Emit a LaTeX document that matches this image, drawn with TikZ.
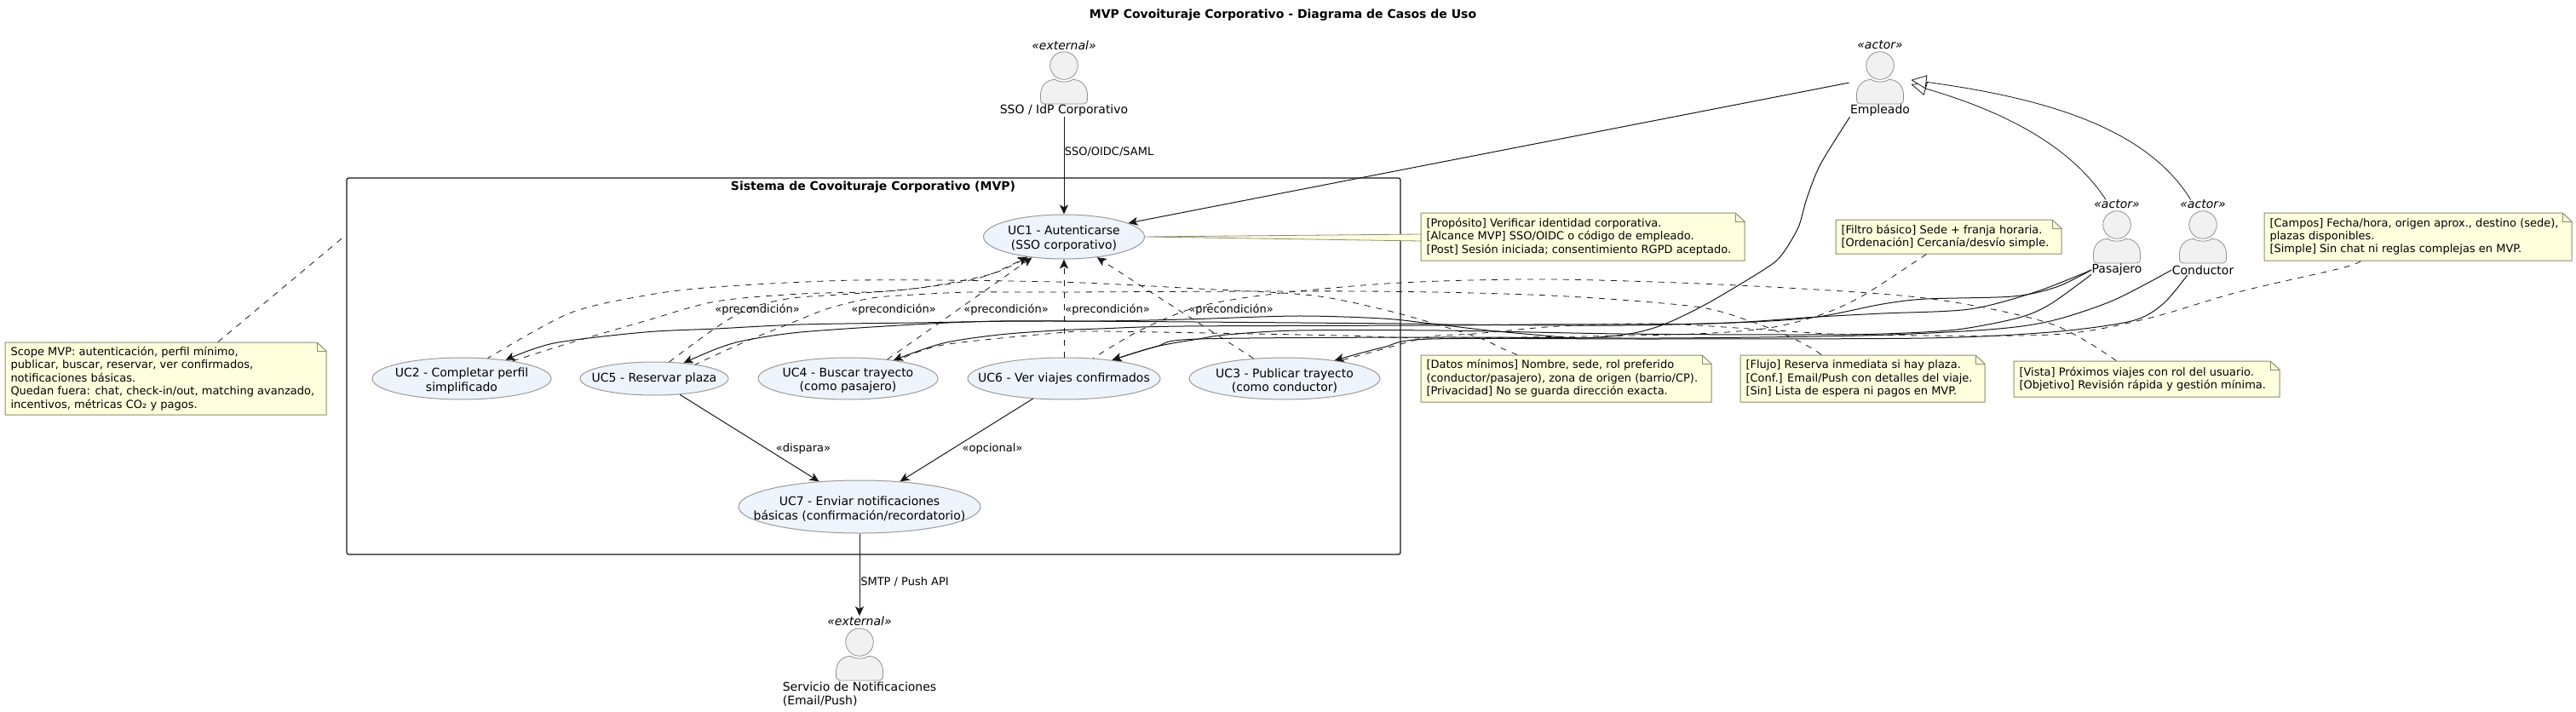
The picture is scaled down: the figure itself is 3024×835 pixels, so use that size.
\documentclass[tikz,border=0pt]{standalone}
\usepackage{fontspec}
\setmainfont{DejaVu Sans}
\usetikzlibrary{arrows.meta,shapes.geometric}
\definecolor{edgec}{HTML}{181818}
\definecolor{ucfill}{HTML}{EEF4FC}
\definecolor{ucline}{HTML}{9A9A9A}
\definecolor{notefill}{HTML}{FEFFDD}
\definecolor{noteline}{HTML}{8C8C70}
\definecolor{actfill}{HTML}{F1F1F1}
\definecolor{actline}{HTML}{909090}
\tikzset{
  base/.style={x=.5pt,y=-.5pt,line width=.5pt},
  tx/.style={inner sep=0pt,font=\fontsize{7}{8.3}\selectfont,text=black},
  txs/.style={inner sep=0pt,font=\fontsize{6.5}{7.7}\selectfont,text=black},
  uctext/.style={inner sep=0pt,font=\fontsize{7}{8.3}\selectfont,align=center,yshift=-1.2pt},
  ucase/.style={ellipse,draw=ucline,fill=ucfill,inner sep=0pt,line width=.5pt},
  flow/.style={draw=edgec,line width=.5pt,-{Stealth[length=5.5pt,width=5pt,inset=1.4pt]}},
  dep/.style={flow,line width=.4pt,dash pattern=on 3.5pt off 3.5pt},
  notelink/.style={draw=edgec,line width=.4pt,dash pattern=on 3.5pt off 3.5pt},
  gen/.style={draw=edgec,line width=.4pt,-{Triangle[open,length=9pt,width=8pt,fill=white]}},
  notebody/.style={draw=noteline,fill=notefill,line width=.5pt},
  empty/.style={inner sep=0pt,draw=none,fill=none},
}
\newcommand{\actorfig}[3]{% name, x, head top y
  \begin{scope}[shift={(#2,#3)}]
    \draw[draw=actline,fill=actfill,line width=.4pt] (0,16) circle[radius=16.25];
    \draw[draw=actline,fill=actfill,line width=.4pt] (-22,61) .. controls (-25.5,61) and (-27.5,59) .. (-27.5,55.5) -- (-27.5,50) .. controls (-27.5,40) and (-20,32) .. (-10,32.5) .. controls (-6,36) and (6,36) .. (10,32.5) .. controls (20,32) and (27.5,40) .. (27.5,50) -- (27.5,55.5) .. controls (27.5,59) and (25.5,61) .. (22,61) -- cycle;
    \node[empty,minimum width=36pt,minimum height=32pt] (#1) at (0,31) {};
  \end{scope}
}
\newcommand{\notebox}[6]{% name,x1,y1,x2,y2,text
  \path[notebody] (#2,#3) -- ({#4-11},#3) -- (#4,{#3+10}) -- (#4,#5) -- (#2,#5) -- cycle;
  \draw[draw=noteline,line width=.5pt] ({#4-11},#3) -- ({#4-11},{#3+10}) -- (#4,{#3+10});
  \pgfmathsetlengthmacro{\nw}{(#4-#2)*.5pt}
  \pgfmathsetlengthmacro{\nh}{(#5-#3)*.5pt}
  \node[empty,minimum width=\nw,minimum height=\nh] (#1) at ({(#2+#4)/2},{(#3+#5)/2}) {};
  \node[txs,align=left,anchor=west] (#1T) at ({#2+6},{(#3+#5)/2}) {#6};
}
\begin{document}
\begin{tikzpicture}[base]
\useasboundingbox (0,0) rectangle (3024,835);
\fill[white] (0,0) rectangle (3024,835);

\node[inner sep=0pt,font=\fontsize{7}{8.3}\selectfont\bfseries] (title) at (1506,18) {MVP Covoituraje Corporativo - Diagrama de Casos de Uso};

% system
\node[draw=edgec,rounded corners=1.2pt,line width=.6pt,minimum width=618.5pt,minimum height=221pt,inner sep=0pt] (sys) at (1025.5,430) {};
\node[inner sep=0pt,font=\fontsize{7}{8.3}\selectfont\bfseries] (systitle) at (1025,220) {Sistema de Covoituraje Corporativo (MVP)};

% actors
\actorfig{ssoA}{1249}{61}
\node[tx,font=\fontsize{7}{8.3}\selectfont\itshape] (ssoS) at (1249,53) {«external»};
\node[tx] (ssoL) at (1249,130) {SSO / IdP Corporativo};
\actorfig{empA}{2207}{61}
\node[tx,font=\fontsize{7}{8.3}\selectfont\itshape] (empS) at (2207,53) {«actor»};
\node[tx] (empL) at (2207,130) {Empleado};
\actorfig{pasA}{2485}{248}
\node[tx,font=\fontsize{7}{8.3}\selectfont\itshape] (pasS) at (2485,240) {«actor»};
\node[tx] (pasL) at (2485,317) {Pasajero};
\actorfig{conA}{2586}{248}
\node[tx,font=\fontsize{7}{8.3}\selectfont\itshape] (conS) at (2586,240) {«actor»};
\node[tx] (conL) at (2586,317) {Conductor};
\actorfig{notA}{1009}{738}
\node[tx,font=\fontsize{7}{8.3}\selectfont\itshape] (notS) at (1009,729) {«external»};
\node[tx,align=left] (notL) at (1009,815) {Servicio de Notificaciones\\(Email/Push)};

% use cases
\node[ucase,minimum width=94.5pt,minimum height=26pt] (uc1) at (1249,278) {};
\node[uctext] (uc1T) at (uc1.center) {UC1 - Autenticarse\\(SSO corporativo)};
\node[ucase,minimum width=105pt,minimum height=24.5pt] (uc2) at (542,444.5) {};
\node[uctext] (uc2T) at (uc2.center) {UC2 - Completar perfil\\simplificado};
\node[ucase,minimum width=87pt,minimum height=19.5pt] (uc5) at (768,444.5) {};
\node[uctext,yshift=1.2pt] (uc5T) at (uc5.center) {UC5 - Reservar plaza};
\node[ucase,minimum width=105.5pt,minimum height=24.5pt] (uc4) at (995.5,444.5) {};
\node[uctext] (uc4T) at (uc4.center) {UC4 - Buscar trayecto\\(como pasajero)};
\node[ucase,minimum width=113pt,minimum height=24.5pt] (uc6) at (1249,444.5) {};
\node[uctext,yshift=1.2pt] (uc6T) at (uc6.center) {UC6 - Ver viajes confirmados};
\node[ucase,minimum width=112pt,minimum height=24.5pt] (uc3) at (1508,444.5) {};
\node[uctext] (uc3T) at (uc3.center) {UC3 - Publicar trayecto\\(como conductor)};
\node[ucase,minimum width=142pt,minimum height=31pt] (uc7) at (1009,595) {};
\node[uctext] (uc7T) at (uc7.center) {UC7 - Enviar notificaciones\\básicas (confirmación/recordatorio)};

% notes
\notebox{nScope}{6}{402}{383}{487}{Scope MVP: autenticación, perfil mínimo,\\publicar, buscar, reservar, ver confirmados,\\notificaciones básicas.\\Quedan fuera: chat, check-in/out, matching avanzado,\\incentivos, métricas CO₂ y pagos.}
\notebox{nUCa}{1668}{250}{2048}{306}{[Propósito] Verificar identidad corporativa.\\{}[Alcance MVP] SSO/OIDC o código de empleado.\\{}[Post] Sesión iniciada; consentimiento RGPD aceptado.}
\notebox{nFiltro}{2155}{258}{2420}{298}{[Filtro básico] Sede + franja horaria.\\{}[Ordenación] Cercanía/desvío simple.}
\notebox{nCampos}{2658}{250}{3019}{306}{[Campos] Fecha/hora, origen aprox., destino (sede),\\plazas disponibles.\\{}[Simple] Sin chat ni reglas complejas en MVP.}
\notebox{nDatos}{1668}{417}{2009}{472}{[Datos mínimos] Nombre, sede, rol preferido\\(conductor/pasajero), zona de origen (barrio/CP).\\{}[Privacidad] No se guarda dirección exacta.}
\notebox{nFlujo}{2043}{417}{2330}{472}{[Flujo] Reserva inmediata si hay plaza.\\{}[Conf.] Email/Push con detalles del viaje.\\{}[Sin] Lista de espera ni pagos en MVP.}
\notebox{nVista}{2364}{424}{2676}{466}{[Vista] Próximos viajes con rol del usuario.\\{}[Objetivo] Revisión rápida y gestión mínima.}

% note wedge
\filldraw[draw=noteline,fill=notefill,line width=.4pt] (uc1.east) -- (1668,275) -- (1668,283) -- cycle;
\draw[notelink] (nScope.35) -- (sys.166.8);

% straight flows
\draw[flow] (ssoL.south) -- (uc1.north);
\draw[flow] (empA.188) -- (uc1.12);
\draw[flow] (uc5.-32) -- (uc7.148);
\draw[flow] (uc6.-147) -- (uc7.32);
\draw[flow] (uc7.south) -- (notS.north);

% generalisations
\draw[gen] (pasS.157) .. controls (2430,170) and (2350,130) .. (empA.-11);
\draw[gen] (conS.159) .. controls (2520,150) and (2400,115) .. (empA.-3);

% preconditions
\draw[dep] plot[smooth,tension=.5] coordinates {(uc2.19) (668,403) (757,377) (840,354) (940,345) (1040,342) (1123,332) (1163,322) (uc1.-151)};
\draw[dep] plot[smooth,tension=.5] coordinates {(uc5.48) (840,385) (880,362) (930,350) (1000,345) (1080,338) (1163,322) (uc1.-151)};
\draw[dep] (uc4.26) -- (uc1.-147);
\draw[dep] (uc6.north) -- (uc1.south);
\draw[dep] (uc3.147) -- (uc1.-32);

% actor to use case
\draw[flow] plot[smooth,tension=.5] coordinates {(empL.south west) (2137,193) (2121,233) (2111,267) (2091,300) (2070,317) (2003,357) (1953,381) (1913,392) (1857,397) (1813,394) (1747,388) (1680,380) (1623,374) (1523,371) (1390,375) (1290,377) (1173,377) (1073,381) (940,390) (873,400) (840,410) (uc5.28)};
\draw[flow] plot[smooth,tension=.5] coordinates {(pasL.west) (2414,337) (2363,348) (2261,351) (2210,357) (2134,372) (2057,378) (1904,382) (1700,381) (1643,380) (1240,377) (1073,379) (940,381) (840,386) (757,390) (650,403) (uc2.23)};
\draw[flow] plot[smooth,tension=.5] coordinates {(pasL.west) (2389,343) (2312,363) (2210,368) (2134,372) (2006,380) (1800,381) (1690,382) (1390,383) (1290,386) (1240,388) (1173,393) (1107,403) (uc4.22)};
\draw[flow] plot[smooth,tension=.5] coordinates {(pasL.-170) (2407,357) (2370,373) (2297,387) (2210,392) (2108,393) (1903,392) (1690,388) (1523,388) (1440,393) (1407,398) (1357,407) (uc6.21)};
\draw[flow] plot[smooth,tension=.5] coordinates {(conL.west) (2480,353) (2407,377) (2334,387) (2187,394) (1947,397) (1690,396) (1407,398) (1357,407) (uc6.21)};
\draw[flow] plot[smooth,tension=.5] coordinates {(conL.-162) (2539,357) (2502,377) (2407,390) (2260,397) (1947,398) (1680,398) (1623,408) (uc3.20)};

% note links
\draw[notelink] plot[smooth,tension=.5] coordinates {(nDatos.154.8) (1763,409) (1740,398) (1697,384) (1630,365) (1541,347) (1407,339) (1240,331) (1007,329) (840,337) (757,347) (668,368) (uc2.38)};
\draw[notelink] plot[smooth,tension=.5] coordinates {(nFlujo.150) (2127,409) (2100,395) (2057,378) (1990,360) (1820,347) (1600,342) (1240,343) (1140,343) (1073,346) (1023,350) (973,362) (927,380) (873,402) (uc5.19)};
\draw[notelink] plot[smooth,tension=.5] coordinates {(nVista.149.7) (2407,380) (2260,350) (2040,335) (1820,328) (1644,332) (1496,345) (1407,360) (1340,387) (uc6.35)};
\draw[notelink] plot[smooth,tension=.5] coordinates {(nFiltro.-142) (2187,347) (2136,370) (2070,386) (1960,393) (1690,397) (1577,394) (1473,392) (1290,389) (1240,391) (1107,405) (uc4.20)};
\draw[notelink] plot[smooth,tension=.5] coordinates {(nCampos.-157.2) (2748,315) (2627,343) (2517,375) (2407,393) (2180,393) (2070,387) (1947,380) (1830,383) (1730,392) (1680,395) (1623,410) (uc3.18)};

% edge labels
\node[txs] (lpre1) at (889,364) {«precondición»};
\node[txs] (lpre2) at (1049,364) {«precondición»};
\node[txs] (lpre3) at (1181,364) {«precondición»};
\node[txs] (lpre4) at (1300,364) {«precondición»};
\node[txs] (lpre5) at (1445,364) {«precondición»};
\node[txs] (ldisp) at (943,527) {«dispara»};
\node[txs] (lopc) at (1165,527) {«opcional»};
\node[txs] (lsso) at (1302,178) {SSO/OIDC/SAML};
\node[txs] (lsmtp) at (1062,683) {SMTP / Push API};
\end{tikzpicture}
\end{document}
